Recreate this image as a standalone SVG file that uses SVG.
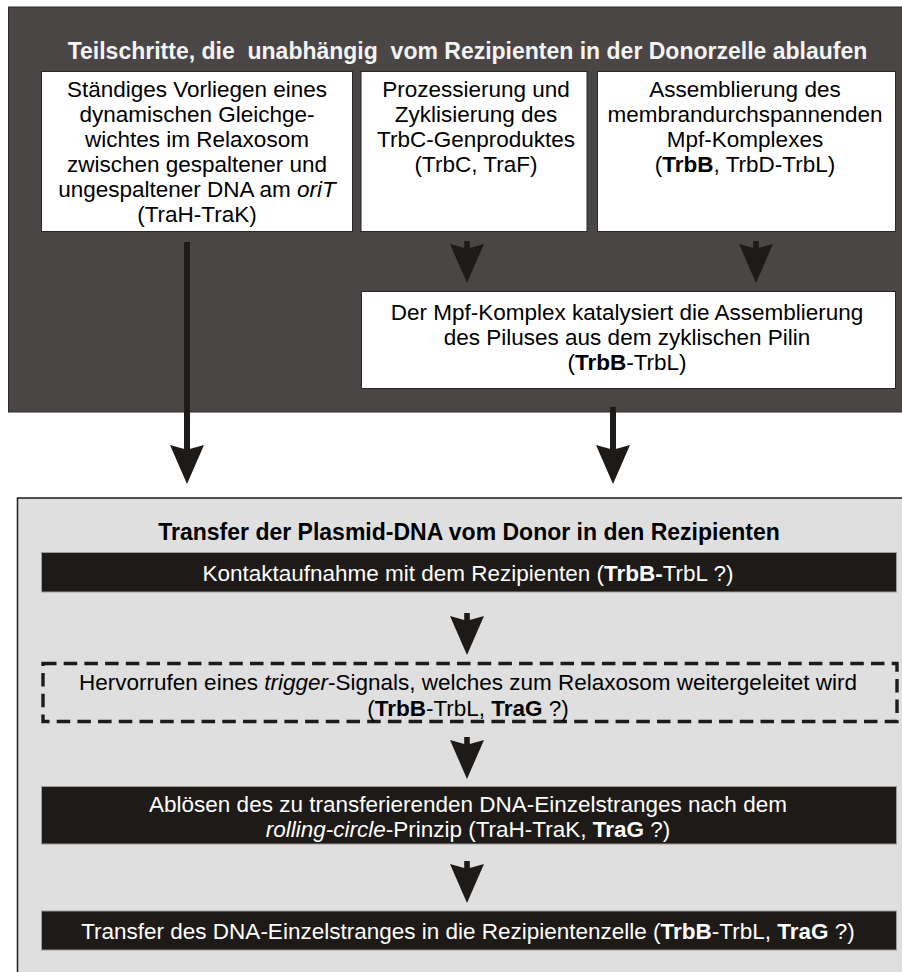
<svg xmlns="http://www.w3.org/2000/svg" width="902" height="972" viewBox="0 0 902 972">
<style>
  text { font-family: "Liberation Sans", Arial, sans-serif; font-size: 22.5px; text-anchor: middle; }
  .hdr { font-weight: bold; font-size: 23px; fill: #f4f4f4; white-space: pre; }
  .ttl { font-weight: bold; font-size: 23px; fill: #000; }
  .blk { fill: #000; }
  .wht { fill: #ffffff; }
  .b { font-weight: bold; }
  .i { font-style: italic; }
  .wbox { fill: #ffffff; stroke: #2a2626; stroke-width: 1; }
  .kbox { fill: #1e1a17; stroke: #9a9a9a; stroke-width: 1; }
  .head { fill: #1e1a17; }
  .stem { stroke: #1e1a17; fill: none; }
</style>
<defs>
  <path id="ah" d="M -17 3 L 0 7.7 L 17 3 L 0 42 Z"/>
  <g id="sarrow">
    <rect x="-2.8" y="0" width="5.6" height="8" fill="#1e1a17"/>
    <use href="#ah" class="head"/>
  </g>
</defs>

<g id="donor-panel">
  <rect x="8.5" y="7" width="900" height="405" fill="#4a4646" stroke="#2e2a2a" stroke-width="1"/>
  <text class="hdr" x="467.5" y="58.5" xml:space="preserve">Teilschritte, die  unabhängig  vom Rezipienten in der Donorzelle ablaufen</text>
</g>

<g id="node-relaxosom">
  <rect class="wbox" x="41.5" y="71.5" width="311" height="160"/>
  <text class="blk" x="197" y="96.7">Ständiges Vorliegen eines</text>
  <text class="blk" x="197" y="121.7">dynamischen Gleichge-</text>
  <text class="blk" x="197" y="146.7">wichtes im Relaxosom</text>
  <text class="blk" x="197" y="171.7">zwischen gespaltener und</text>
  <text class="blk" x="197" y="196.7">ungespaltener DNA am <tspan class="i">oriT</tspan></text>
  <text class="blk" x="197" y="221.7">(TraH-TraK)</text>
</g>

<g id="node-prozessierung">
  <rect class="wbox" x="361" y="71.5" width="226" height="160"/>
  <text class="blk" x="476" y="96.7">Prozessierung und</text>
  <text class="blk" x="476" y="121.7">Zyklisierung des</text>
  <text class="blk" x="476" y="146.7">TrbC-Genproduktes</text>
  <text class="blk" x="476" y="171.7">(TrbC, TraF)</text>
</g>

<g id="node-assemblierung">
  <rect class="wbox" x="597.5" y="71.5" width="298" height="160"/>
  <text class="blk" x="745" y="96.7">Assemblierung des</text>
  <text class="blk" x="745" y="121.7">membrandurchspannenden</text>
  <text class="blk" x="745" y="146.7">Mpf-Komplexes</text>
  <text class="blk" x="745" y="171.7">(<tspan class="b">TrbB</tspan>, TrbD-TrbL)</text>
</g>

<g id="node-pilus">
  <rect class="wbox" x="361.5" y="291.5" width="534" height="97"/>
  <text class="blk" x="627" y="320">Der Mpf-Komplex katalysiert die Assemblierung</text>
  <text class="blk" x="627" y="345">des Piluses aus dem zyklischen Pilin</text>
  <text class="blk" x="627" y="370">(<tspan class="b">TrbB</tspan>-TrbL)</text>
</g>

<g id="transfer-panel">
  <rect x="17.5" y="498" width="900" height="490" fill="#dfdfdf" stroke="#1e1a17" stroke-width="1.5"/>
  <text class="ttl" x="469" y="539.5">Transfer der Plasmid-DNA vom Donor in den Rezipienten</text>
</g>

<g id="node-kontakt">
  <rect class="kbox" x="41.5" y="552.5" width="855" height="39.5"/>
  <text class="wht" x="468" y="580.5">Kontaktaufnahme mit dem Rezipienten (<tspan class="b">TrbB-</tspan>TrbL ?)</text>
</g>

<g id="node-trigger">
  <rect x="43" y="663.5" width="854" height="58" fill="none" stroke="#1e1a17" stroke-width="3.4" stroke-dasharray="13.5 7.2"/>
  <text class="blk" x="468" y="690">Hervorrufen eines <tspan class="i">trigger</tspan>-Signals, welches zum Relaxosom weitergeleitet wird</text>
  <text class="blk" x="468" y="716">(<tspan class="b">TrbB</tspan>-TrbL, <tspan class="b">TraG</tspan> ?)</text>
</g>

<g id="node-abloesen">
  <rect class="kbox" x="41.5" y="786.5" width="855" height="57.5"/>
  <text class="wht" x="468" y="811.5">Ablösen des zu transferierenden DNA-Einzelstranges nach dem</text>
  <text class="wht" x="468" y="836.5"><tspan class="i">rolling-circle</tspan>-Prinzip (TraH-TraK, <tspan class="b">TraG</tspan> ?)</text>
</g>

<g id="node-einzelstrang">
  <rect class="kbox" x="41.5" y="911" width="855" height="39"/>
  <text class="wht" x="468" y="938.5">Transfer des DNA-Einzelstranges in die Rezipientenzelle (<tspan class="b">TrbB</tspan>-TrbL, <tspan class="b">TraG</tspan> ?)</text>
</g>

<g id="connectors">
  <use href="#sarrow" transform="translate(467,241)"/>
  <use href="#sarrow" transform="translate(756,241)"/>
  <line class="stem" x1="187" y1="242" x2="187" y2="452" stroke-width="6"/>
  <use href="#ah" class="head" transform="translate(187,442)"/>
  <line class="stem" x1="613" y1="407" x2="613" y2="452" stroke-width="6"/>
  <use href="#ah" class="head" transform="translate(613,442)"/>
  <use href="#sarrow" transform="translate(467,613)"/>
  <use href="#sarrow" transform="translate(467,737)"/>
  <use href="#sarrow" transform="translate(467,861)"/>
</g>
</svg>
